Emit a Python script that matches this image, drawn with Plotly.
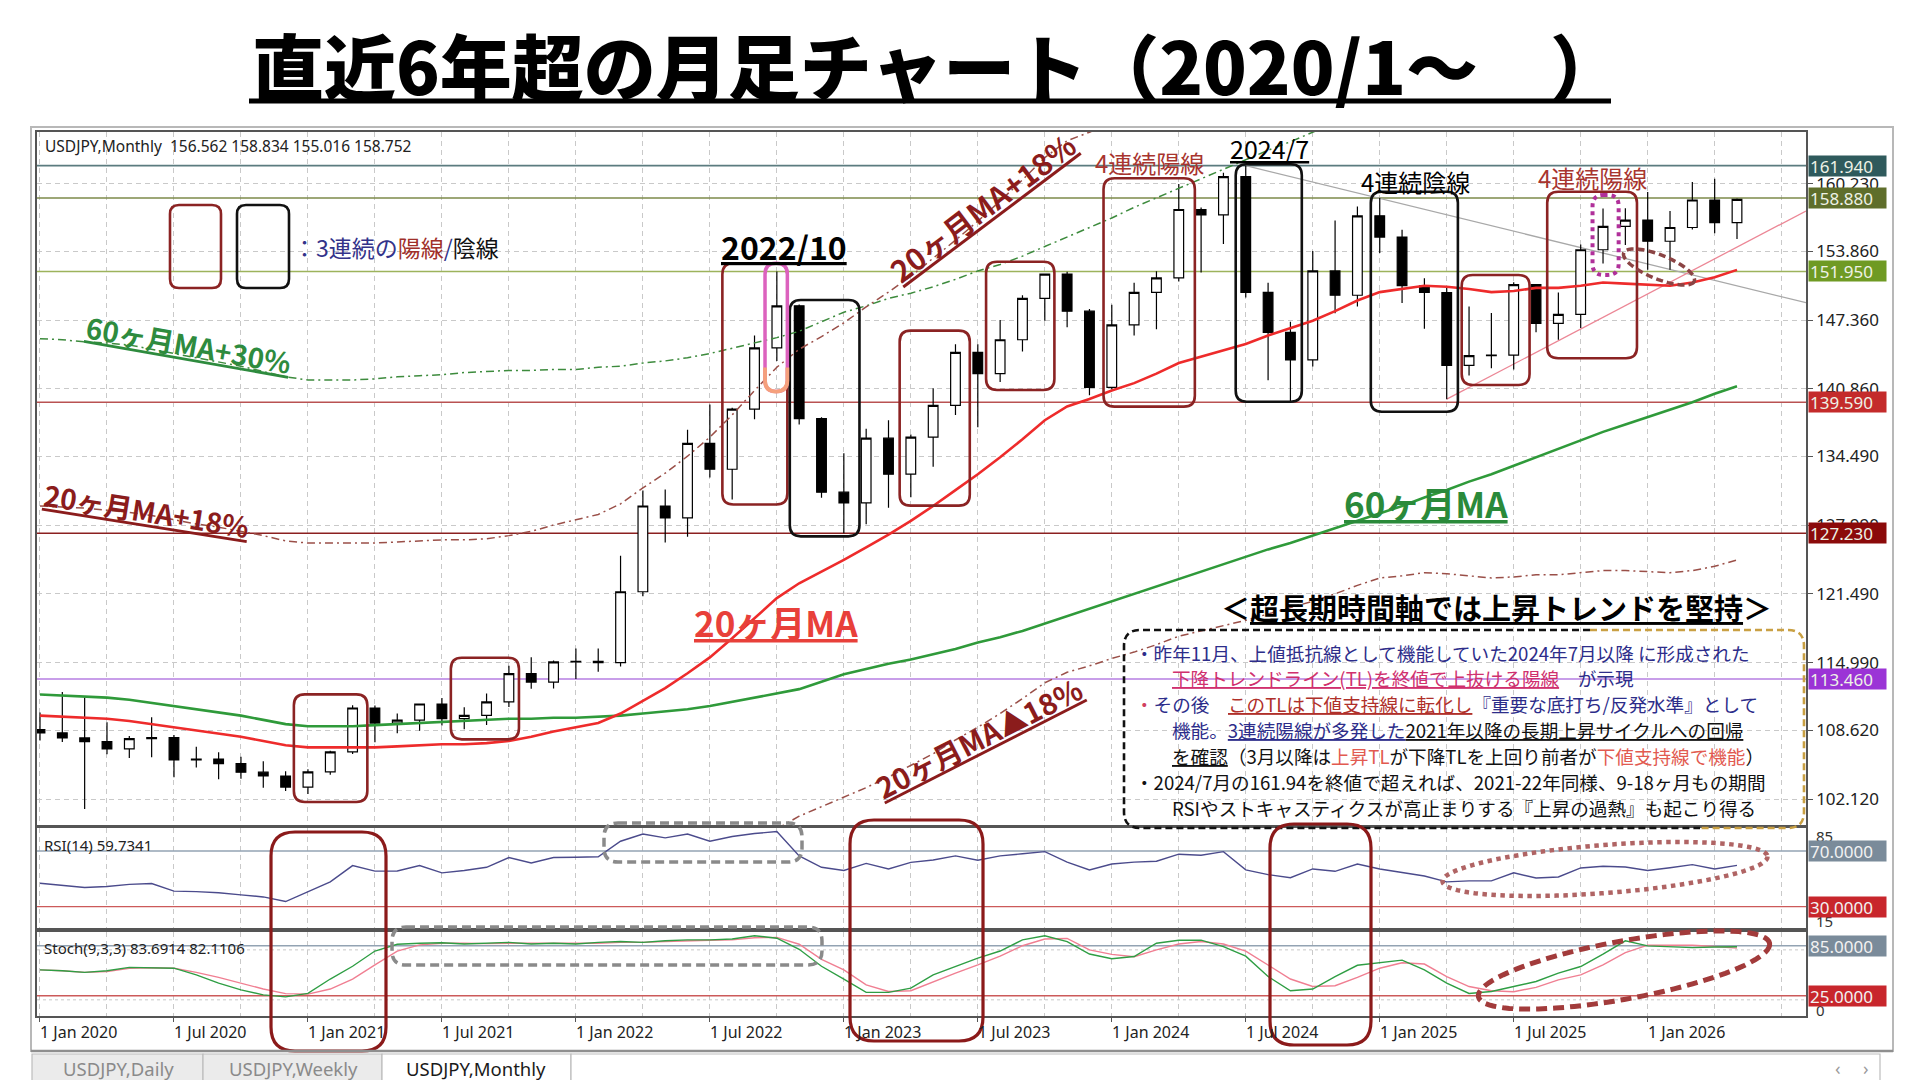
import math
import pandas as pd
import plotly.graph_objects as go

W, H = 1920, 1080
JP = "Noto Sans CJK JP"
LAT = "Noto Sans"

# ---------------- data (monthly USDJPY, Jan 2020 - May 2026) ----------------
months = pd.date_range("2020-01-01", periods=77, freq="MS")

opens = [108.68, 108.37, 107.89, 107.54, 106.86, 107.83, 107.93, 105.83, 105.90, 105.47, 104.66, 104.30,
         103.25, 104.68, 106.58, 110.72, 109.30, 109.58, 111.10, 109.72, 110.03, 111.29, 113.96, 113.17,
         115.08, 115.13, 115.00, 121.70, 129.80, 128.67, 135.72, 133.27, 138.95, 144.74, 148.70, 138.05,
         131.10, 130.10, 136.20, 132.80, 136.30, 139.30, 144.30, 142.30, 145.50, 149.40, 151.70, 148.20,
         141.00, 146.90, 149.97, 151.35, 157.80, 157.30, 160.90, 149.98, 146.20, 143.60, 152.00, 149.70,
         157.20, 155.20, 150.60, 149.96, 143.07, 144.00, 144.05, 150.70, 147.05, 147.90, 154.00, 156.20,
         156.80, 154.80, 156.10, 158.70, 156.562]
highs = [110.29, 112.23, 111.71, 109.38, 108.08, 109.85, 108.16, 107.05, 106.55, 106.11, 105.68, 104.74,
         104.94, 106.69, 110.97, 110.96, 110.20, 111.11, 111.66, 110.80, 112.08, 114.70, 115.52, 115.20,
         116.35, 116.34, 125.10, 131.25, 131.35, 137.00, 139.39, 139.08, 145.90, 151.95, 148.82, 138.18,
         134.77, 137.10, 137.90, 136.56, 140.93, 145.07, 145.07, 147.37, 149.70, 151.72, 151.91, 148.40,
         148.80, 150.88, 151.97, 160.20, 157.99, 161.27, 161.94, 150.88, 147.20, 153.88, 156.75, 158.08,
         158.88, 155.88, 151.30, 150.49, 148.65, 148.03, 150.92, 150.75, 149.96, 154.50, 157.90, 157.92,
         159.45, 157.65, 160.40, 160.70, 158.834]
lows = [107.65, 107.51, 101.19, 106.36, 105.99, 106.07, 104.19, 105.10, 104.00, 104.03, 103.18, 102.88,
        102.59, 104.41, 106.37, 107.48, 108.34, 108.57, 109.06, 108.72, 109.11, 110.82, 112.53, 112.55,
        113.47, 114.15, 114.65, 121.28, 126.36, 126.90, 132.50, 130.40, 138.00, 143.50, 137.50, 130.57,
        127.23, 128.08, 129.64, 130.63, 133.50, 138.40, 137.24, 141.50, 144.40, 147.30, 146.67, 140.25,
        140.80, 145.90, 146.48, 151.00, 151.86, 154.55, 149.50, 141.68, 139.59, 142.97, 148.00, 148.64,
        153.70, 148.96, 146.54, 139.89, 142.12, 142.80, 142.70, 146.20, 145.50, 146.60, 152.70, 154.45,
        152.10, 152.10, 155.90, 155.55, 155.016]
closes = [108.37, 107.89, 107.54, 106.86, 107.83, 107.93, 105.83, 105.90, 105.47, 104.66, 104.30, 103.25,
          104.68, 106.58, 110.72, 109.30, 109.58, 111.10, 109.72, 110.03, 111.29, 113.96, 113.17, 115.08,
          115.13, 115.00, 121.70, 129.80, 128.67, 135.72, 133.27, 138.95, 144.74, 148.70, 138.05, 131.10,
          130.10, 136.20, 132.80, 136.30, 139.30, 144.30, 142.30, 145.50, 149.40, 151.70, 148.20, 141.00,
          146.90, 149.97, 151.35, 157.80, 157.30, 160.90, 149.98, 146.20, 143.60, 152.00, 149.70, 157.20,
          155.20, 150.60, 149.96, 143.07, 144.00, 144.05, 150.70, 147.05, 147.90, 154.00, 156.20, 156.80,
          154.80, 156.10, 158.70, 156.56, 158.752]

ma20 = [110.0, 109.9, 109.8, 109.7, 109.5, 109.2, 108.9, 108.6, 108.3, 108.0, 107.6, 107.2,
        107.0, 107.0, 107.0, 107.0, 107.1, 107.2, 107.3, 107.3, 107.4, 107.6, 108.0, 108.5,
        108.9, 109.3, 110.2, 111.4, 112.6, 114.0, 115.5, 117.3, 119.2, 121.1, 122.5, 123.6,
        124.7, 125.9, 127.1, 128.4, 129.8, 131.3, 132.8, 134.4, 136.1, 137.9, 139.2, 139.9,
        140.7, 141.4, 142.3, 143.3, 143.9, 144.5, 145.1, 145.9, 146.6, 147.3, 148.2, 149.2,
        150.0, 150.3, 150.6, 150.5, 150.3, 150.0, 150.1, 150.4, 150.4, 150.6, 150.9, 150.8,
        150.7, 150.6, 150.9, 151.4, 152.1]
ma60 = [112.0, 111.9, 111.8, 111.7, 111.5, 111.2, 110.9, 110.6, 110.3, 110.0, 109.6, 109.2,
        109.0, 109.0, 109.0, 109.1, 109.2, 109.3, 109.4, 109.5, 109.6, 109.7, 109.7, 109.8,
        109.8, 109.9, 110.0, 110.2, 110.4, 110.6, 110.9, 111.3, 111.7, 112.1, 112.5, 113.2,
        113.9, 114.4, 114.9, 115.3, 115.8, 116.3, 116.9, 117.4, 118.0, 118.7, 119.4, 120.1,
        120.8, 121.5, 122.2, 122.9, 123.6, 124.3, 125.0, 125.7, 126.3, 127.0, 127.7, 128.4,
        129.1, 129.8, 130.6, 131.3, 132.1, 132.8, 133.6, 134.4, 135.2, 136.0, 136.8, 137.5,
        138.2, 138.9, 139.6, 140.4, 141.1]
ma20_up18 = [129.8, 129.7, 129.6, 129.4, 129.2, 128.9, 128.5, 128.1, 127.8, 127.4, 127.0, 126.5,
             126.3, 126.3, 126.3, 126.3, 126.4, 126.5, 126.6, 126.6, 126.7, 127.0, 127.4, 128.0,
             128.5, 129.0, 130.0, 131.5, 132.9, 134.5, 136.3, 138.4, 140.7, 142.9, 144.6, 145.8,
             147.1, 148.6, 150.0, 151.5, 153.2, 154.9, 156.7, 158.6, 160.6, 162.7, 164.3, 165.1,
             166.0] + [None] * 28
ma20_dn18 = [None] * 33 + [99.3, 100.5, 101.4,
             102.3, 103.2, 104.2, 105.3, 106.4, 107.7, 108.9, 110.2, 111.6, 113.1, 114.1, 114.7,
             115.4, 116.0, 116.7, 117.5, 118.0, 118.5, 119.0, 119.6, 120.2, 120.8, 121.5, 122.3,
             123.0, 123.2, 123.5, 123.4, 123.2, 123.0, 123.1, 123.3, 123.3, 123.5, 123.7, 123.7,
             123.6, 123.5, 123.7, 124.1, 124.7]
ma60_up30 = [145.6, 145.5, 145.3, 145.2, 145.0, 144.6, 144.2, 143.8, 143.4, 143.0, 142.5, 142.0,
             141.7, 141.7, 141.7, 141.8, 142.0, 142.1, 142.2, 142.4, 142.5, 142.6, 142.6, 142.7,
             142.7, 142.9, 143.0, 143.3, 143.5, 143.8, 144.2, 144.7, 145.2, 145.7, 146.3, 147.2,
             148.1, 148.7, 149.4, 149.9, 150.5, 151.2, 152.0, 152.6, 153.4, 154.3, 155.2, 156.1,
             157.0, 158.0, 158.9, 159.8, 160.7, 161.6, 162.5, 163.4, 164.2, 165.1, 166.0] + [None] * 18

rsi14 = [46.8, 45.3, 43.8, 44.5, 46.0, 46.6, 41.2, 40.8, 40.0, 38.5, 37.0, 33.7,
         40.5, 47.8, 59.5, 55.5, 55.6, 59.5, 54.3, 56.0, 58.3, 65.3, 61.4, 65.3,
         65.5, 65.8, 77.0, 82.2, 79.4, 82.2, 77.0, 80.4, 82.5, 84.0, 66.5, 58.3,
         56.0, 61.1, 57.1, 61.8, 63.5, 66.5, 63.4, 66.5, 68.0, 69.5, 62.0, 56.4,
         60.6, 62.0, 62.6, 67.7, 66.9, 69.5, 56.4, 53.0, 50.8, 57.1, 55.4, 60.6,
         57.1, 54.3, 52.0, 47.8, 48.5, 48.5, 54.3, 50.6, 51.3, 57.8, 59.0, 58.5,
         56.0, 58.0, 60.2, 57.1, 59.7]
stoch_k = [56, 55, 53, 55, 59, 58.5, 58, 50, 40, 32, 26, 23.6,
           27.7, 45, 60.3, 78.6, 86.8, 88, 88.5, 87, 88, 89, 87, 88,
           87, 89, 90, 89, 91, 92, 92, 93, 97, 94, 80.7, 60.3,
           45, 29, 29, 34, 50, 60.3, 70, 78.6, 92, 97, 90, 75,
           69.3, 72, 88, 91.5, 91.7, 84, 72.5, 48, 30.9, 33, 48, 61.5,
           65, 67.7, 56, 40, 27.7, 30, 36, 42, 52, 60, 75, 90.9,
           84.8, 83.5, 82.7, 83.5, 83.7]
stoch_d = [56, 55, 53, 54, 58, 58.5, 58, 53, 47, 40, 33, 27.5,
           26.9, 33, 45, 62, 78.6, 86, 88, 88, 87.5, 88, 88, 87.5,
           88, 88, 89, 89, 90, 91, 91.5, 92, 94.5, 95, 86.8, 68.5,
           56, 38, 30, 31, 42, 52.2, 62, 72.5, 85, 93, 93.7, 80,
           74.6, 71.7, 80, 87, 90, 87, 78.6, 62, 45, 36, 37, 47,
           58, 64.5, 63, 48, 36, 31, 29.7, 35, 44, 50, 62, 76.6,
           85.6, 85.5, 85.6, 84, 82.1]

price_ticks = [160.230, 153.860, 147.360, 140.860, 134.490, 127.990, 121.490, 114.990, 108.620, 102.120]
level_values = [161.940, 158.880, 151.950, 139.590, 127.230, 113.460]
level_line_colors = ["#5b7b7f", "#7d8a4a", "#9db35c", "#b95252", "#8b2020", "#b67ee2"]
level_box_colors = ["#2f5a5c", "#5f6e2b", "#6f9a23", "#c42b2b", "#8b0a0a", "#9b34d6"]

xi = list(range(len(months)))
xtick_idx = [i for i, m in enumerate(months) if m.month in (1, 7)]
xtick_text = [f"1 {months[i].strftime('%b')} {months[i].year}" for i in xtick_idx]

# ---------------- geometry ----------------
XR = [-0.134, 79.09]
YR_MAIN = [99.67, 165.12]
YR_RSI = [14.9, 86.5]
YR_STO = [0.6, 101.1]
SX = 22.33    # px per month
SY = 10.587   # px per yen
DOMX = [37 / W, 1806 / W]

fig = go.Figure()

fig.add_trace(go.Candlestick(
    x=xi, open=opens, high=highs, low=lows, close=closes,
    increasing=dict(line=dict(color="#000", width=1.2), fillcolor="#fff"),
    decreasing=dict(line=dict(color="#000", width=1.2), fillcolor="#000"),
    whiskerwidth=0, xaxis="x", yaxis="y", showlegend=False, hoverinfo="skip"))

def line_trace(y, color, width, dash=None, xa="x", ya="y"):
    return go.Scatter(x=xi, y=y, mode="lines", xaxis=xa, yaxis=ya, showlegend=False,
                      hoverinfo="skip", line=dict(color=color, width=width, dash=dash))

fig.add_trace(line_trace(ma60_up30, "#3d8b3d", 1.5, "8px,4px,2px,4px"))
fig.add_trace(line_trace(ma20_up18, "#9a4f48", 1.5, "8px,4px,2px,4px"))
fig.add_trace(line_trace(ma20_dn18, "#9a4f48", 1.5, "8px,4px,2px,4px"))
fig.add_trace(line_trace(ma60, "#2f9a3a", 2.6))
fig.add_trace(line_trace(ma20, "#ee2b2b", 2.6))
fig.add_trace(line_trace(rsi14, "#4b4b8c", 1.4, None, "x2", "y2"))
fig.add_trace(line_trace(stoch_d, "#f07f92", 1.4, None, "x3", "y3"))
fig.add_trace(line_trace(stoch_k, "#2f9e44", 1.4, None, "x3", "y3"))

# ---------------- shapes ----------------
shapes = []

def P(x, y):
    return f"{x / W:.5f},{1 - y / H:.5f}"

def rr_px(x0, y0, x1, y1, r):
    return (f"M{P(x0 + r, y0)} L{P(x1 - r, y0)} Q{P(x1, y0)} {P(x1, y0 + r)} L{P(x1, y1 - r)} "
            f"Q{P(x1, y1)} {P(x1 - r, y1)} L{P(x0 + r, y1)} Q{P(x0, y1)} {P(x0, y1 - r)} "
            f"L{P(x0, y0 + r)} Q{P(x0, y0)} {P(x0 + r, y0)} Z")

def rr_data(x0, x1, y0, y1, r=11):
    rx, ry = r / SX, r / SY
    return (f"M{x0 + rx},{y1} L{x1 - rx},{y1} Q{x1},{y1} {x1},{y1 - ry} L{x1},{y0 + ry} "
            f"Q{x1},{y0} {x1 - rx},{y0} L{x0 + rx},{y0} Q{x0},{y0} {x0},{y0 + ry} "
            f"L{x0},{y1 - ry} Q{x0},{y1} {x0 + rx},{y1} Z")

def ellipse_px(cx, cy, a, b, ang, n=90):
    t = math.radians(ang)
    pts = []
    for k in range(n + 1):
        th = 2 * math.pi * k / n
        ex, ey = a * math.cos(th), b * math.sin(th)
        pts.append(P(cx + ex * math.cos(t) - ey * math.sin(t), cy + ex * math.sin(t) + ey * math.cos(t)))
    return "M" + " L".join(pts) + " Z"

def pshape(path, color, width, dash=None, xref="paper", yref="paper", layer="above"):
    return dict(type="path", path=path, xref=xref, yref=yref, layer=layer,
                line=dict(color=color, width=width, dash=dash))

# horizontal level lines
for v, c in zip(level_values, level_line_colors):
    shapes.append(dict(type="line", xref="x", yref="y", x0=XR[0], x1=XR[1], y0=v, y1=v,
                       layer="between", line=dict(color=c, width=1.6)))
# trend lines
shapes.append(dict(type="line", xref="x", yref="y", x0=54, y0=highs[54], x1=XR[1], y1=149.0,
                   layer="between", line=dict(color="#a8a8a8", width=1.3)))
shapes.append(dict(type="line", xref="x", yref="y", x0=63, y0=lows[63], x1=XR[1], y1=157.66,
                   layer="between", line=dict(color="#ec8796", width=1.3)))
# indicator levels
shapes += [
    dict(type="line", xref="x2", yref="y2", x0=XR[0], x1=XR[1], y0=70, y1=70, layer="between", line=dict(color="#93a3b3", width=1.4)),
    dict(type="line", xref="x2", yref="y2", x0=XR[0], x1=XR[1], y0=30, y1=30, layer="between", line=dict(color="#cc5a5a", width=1.4)),
    dict(type="line", xref="x3", yref="y3", x0=XR[0], x1=XR[1], y0=85, y1=85, layer="between", line=dict(color="#93a3b3", width=1.4)),
    dict(type="line", xref="x3", yref="y3", x0=XR[0], x1=XR[1], y0=25, y1=25, layer="between", line=dict(color="#cc5a5a", width=1.4)),
    dict(type="line", xref="x3", yref="y3", x0=XR[0], x1=XR[1], y0=80, y1=80, layer="between", line=dict(color="#c8c8c8", width=1, dash="dot")),
    dict(type="line", xref="x3", yref="y3", x0=XR[0], x1=XR[1], y0=20, y1=20, layer="between", line=dict(color="#c8c8c8", width=1, dash="dot")),
]

# candle group boxes (x: month index, y: price)
RED, BLK = "#8b2323", "#111111"
boxes = [
    (11.37, 14.66, 101.84, 112.01, RED), (18.40, 21.45, 107.76, 115.47, RED),
    (30.56, 33.47, 129.94, 152.72, RED), (33.58, 36.70, 126.93, 149.25, BLK),
    (38.50, 41.64, 129.83, 146.36, RED), (42.37, 45.43, 140.76, 152.87, RED),
    (47.63, 51.72, 139.18, 160.75, RED), (53.55, 56.51, 139.65, 162.07, BLK),
    (59.60, 63.50, 138.70, 159.48, BLK), (63.67, 66.71, 141.23, 151.62, RED),
    (67.50, 71.52, 143.75, 159.48, RED),
]
for x0, x1, y0, y1, c in boxes:
    shapes.append(pshape(rr_data(x0, x1, y0, y1, 11), c, 2.6, xref="x", yref="y"))
# 2022/10 highlighted candle (pink -> orange)
shapes.append(pshape(rr_data(32.47, 33.47, 140.6, 152.72, 11), "#dc62be", 3.5, xref="x", yref="y"))
rx, ry = 11 / SX, 11 / SY
shapes.append(pshape(f"M32.47,{140.6 + 2.2 * ry} L32.47,{140.6 + ry} Q32.47,140.6 {32.47 + rx},140.6 "
                     f"Q33.47,140.6 33.47,{140.6 + ry} L33.47,{140.6 + 2.2 * ry}",
                     "#f5a07c", 3.8, xref="x", yref="y"))
# Nov 2025 dotted box
shapes.append(pshape(rr_data(69.53, 70.70, 151.62, 159.17, 11), "#b0309a", 4, "dot", xref="x", yref="y"))
# small dashed ellipse near TL cross
shapes.append(pshape(ellipse_px(1659, 267, 38, 12, 22), "#8b4444", 3.5, "7px,4px"))

# legend boxes
shapes.append(pshape(rr_px(170, 205, 221, 288, 9), RED, 2.6))
shapes.append(pshape(rr_px(237, 205, 289, 288, 9), BLK, 2.6))

# text box border (black left part / gold right part)
bx0, by0, bx1, by1, br = 1124, 630, 1804, 828, 16
shapes.append(pshape(f"M{P(1590, by0)} L{P(bx0 + br, by0)} Q{P(bx0, by0)} {P(bx0, by0 + br)} "
                     f"L{P(bx0, by1 - br)} Q{P(bx0, by1)} {P(bx0 + br, by1)} L{P(1700, by1)}",
                     "#111", 2.6, "7px,4px"))
shapes.append(pshape(f"M{P(1590, by0)} L{P(bx1 - br, by0)} Q{P(bx1, by0)} {P(bx1, by0 + br)} "
                     f"L{P(bx1, by1 - br)} Q{P(bx1, by1)} {P(bx1 - br, by1)} L{P(1700, by1)}",
                     "#c9a043", 2.6, "7px,4px"))

# indicator-panel highlights
shapes.append(pshape(rr_px(604, 823, 802, 862, 14), "#8a8a8a", 3.5, "9px,5px"))
shapes.append(pshape(rr_px(392, 927, 822, 965, 14), "#8a8a8a", 3.5, "9px,5px"))
shapes.append(pshape(rr_px(271, 832, 386, 1051, 24), "#8b1a1a", 3.2))
shapes.append(pshape(rr_px(850, 820, 983, 1041, 24), "#8b1a1a", 3.2))
shapes.append(pshape(rr_px(1270, 824, 1371, 1045, 24), "#8b1a1a", 3.2))
shapes.append(pshape(ellipse_px(1605, 869, 163, 24, -4.4), "#b06464", 4.5, "dot"))
shapes.append(pshape(ellipse_px(1624, 970, 148, 29, -10.4), "#a23b3b", 5, "11px,6px"))

# title underline
shapes.append(dict(type="line", xref="paper", yref="paper", x0=249 / W, x1=1611 / W,
                   y0=1 - 101 / H, y1=1 - 101 / H, line=dict(color="#000", width=5)))
# outer window frame and tab bar
shapes.append(dict(type="rect", xref="paper", yref="paper", x0=31 / W, x1=1893 / W, y0=1 - 1051 / H,
                   y1=1 - 127 / H, line=dict(color="#b8b8b8", width=2)))
shapes.append(dict(type="line", xref="paper", yref="paper", x0=31 / W, x1=1893 / W, y0=1 - 1051 / H,
                   y1=1 - 1051 / H, line=dict(color="#8f8f8f", width=2.5)))
for tx0, tx1, fill in [(32, 203, "#ebebeb"), (203, 382, "#ebebeb"), (382, 571, "#ffffff"), (571, 1880, "#ffffff")]:
    shapes.append(dict(type="rect", xref="paper", yref="paper", x0=tx0 / W, x1=tx1 / W,
                       y0=-0.01, y1=1 - 1054 / H, fillcolor=fill, line=dict(color="#bdbdbd", width=1.2)))

# ---------------- annotations ----------------
anns = []

def A(x, y, text, size, color="#000", xanchor="left", yanchor="middle", angle=0,
      weight=None, family=JP, under=False):
    f = dict(size=size, color=color, family=family)
    if weight:
        f["weight"] = weight
    if under:
        f["lineposition"] = "under"
    anns.append(dict(x=x / W, y=1 - y / H, xref="paper", yref="paper", text=text, showarrow=False,
                     xanchor=xanchor, yanchor=yanchor, textangle=angle, font=f))

A(250, 64, "直近6年超の月足チャート（2020/1～　）", 72, weight=900)
A(43, 146, "USDJPY,Monthly  156.562 158.834 155.016 158.752", 15.5, "#222", family=LAT)
A(42, 845, "RSI(14) 59.7341", 15, "#222", family=LAT)
A(42, 948, "Stoch(9,3,3) 83.6914 82.1106", 15, "#222", family=LAT)

A(291, 247, '<span style="color:#33338a">：3連続の</span><span style="color:#a0302a">陽線</span>'
            '<span style="color:#33338a">/</span><span style="color:#111">陰線</span>', 23)
A(188, 344, "60ヶ月MA+30%", 28, "#2e8b3e", "center", angle=10, weight="bold", under=True)
A(146, 510, "20ヶ月MA+18%", 28, "#8b1c1c", "center", angle=9, weight="bold", under=True)
A(784, 246, "2022/10", 32, "#000", "center", weight="bold", under=True)
A(982, 207, "20ヶ月MA+18%", 30, "#8b1c1c", "center", angle=-37, weight="bold", under=True)
A(1149, 163, "4連続陽線", 24, "#a8352f", "center")
A(1269, 148, "2024/7", 25, "#000", "center", under=True)
A(1415, 181, "4連続陰線", 24, "#000", "center")
A(1592, 178, "4連続陽線", 24, "#a8352f", "center")
A(776, 621, "20ヶ月MA", 35, "#e8403a", "center", weight="bold", under=True)
A(1426, 502, "60ヶ月MA", 35, "#2a8a3a", "center", weight="bold", under=True)
A(978, 737, "20ヶ月MA▲18%", 29, "#8b1c1c", "center", angle=-27, weight="bold", under=True)

A(1496, 607, '＜<span style="text-decoration:underline">超長期時間軸では上昇トレンドを堅持</span>＞',
  29, "#000", "center", weight="bold")
NV, MG, BR, SA, BK = "#2d2d8a", "#d0306e", "#b0302a", "#e25a50", "#111111"
U = '<span style="text-decoration:underline">'
TS = 18.6
A(1133, 652, f'<span style="color:{NV}">・昨年11月、上値抵抗線として機能していた2024年7月以降 に形成された</span>', TS)
A(1170, 677, f'<span style="color:{MG}">{U}下降トレンドライン(TL)を終値で上抜ける陽線</span></span>'
             f'<span style="color:{NV}">　が示現</span>', TS)
A(1133, 703, f'<span style="color:#d04060">・</span><span style="color:{NV}">その後　</span>'
             f'<span style="color:{BR}">{U}このTLは下値支持線に転化し</span></span>'
             f'<span style="color:{NV}">『重要な底打ち/反発水準』として</span>', TS)
A(1170, 729, f'<span style="color:{NV}">機能。{U}3連続陽線が多発した</span></span>'
             f'<span style="color:{BK}">{U}2021年以降の長期上昇サイクルへの回帰</span></span>', TS)
A(1170, 755, f'<span style="color:{BK}">{U}を確認</span>（3月以降は</span><span style="color:{SA}">上昇TL</span>'
             f'<span style="color:{BK}">が下降TLを上回り前者が</span><span style="color:{SA}">下値支持線で機能</span>'
             f'<span style="color:{BK}">）</span>', TS)
A(1133, 781, f'<span style="color:{BK}">・2024/7月の161.94を終値で超えれば、2021-22年同様、9-18ヶ月もの期間</span>', TS)
A(1170, 807, f'<span style="color:{BK}">RSIやストキャスティクスが高止まりする『上昇の過熱』も起こり得る</span>', TS)

# small edge labels of indicator scales
A(1814, 836, "85", 15, "#333", family=LAT)
A(1814, 921, "15", 15, "#333", family=LAT)
A(1814, 1010, "0", 15, "#333", family=LAT)

# value boxes on the price scale
for v, c in zip(level_values, level_box_colors):
    anns.append(dict(x=1808 / W, y=v, xref="paper", yref="y", text=f"{v:.3f}", showarrow=False,
                     xanchor="left", yanchor="middle", align="left", width=75, height=18, borderpad=1,
                     bgcolor=c, font=dict(size=17, color="#eef2e6", family=LAT)))
for v, c, ya in [(70, "#7a8b9a", "y2"), (30, "#c8262c", "y2"), (85, "#7a8b9a", "y3"), (25, "#c8262c", "y3")]:
    anns.append(dict(x=1808 / W, y=v, xref="paper", yref=ya, text=f"{v:.4f}", showarrow=False,
                     xanchor="left", yanchor="middle", align="left", width=75, height=18, borderpad=1,
                     bgcolor=c, font=dict(size=17, color="#f2f2f2", family=LAT)))

# time-axis labels (left aligned like MT4)
for i, t in zip(xtick_idx, xtick_text):
    anns.append(dict(x=i, y=1 - 1032 / H, xref="x3", yref="paper", text=t, showarrow=False,
                     xanchor="left", yanchor="middle", xshift=-2, font=dict(size=16, color="#222", family=LAT)))

# tabs
A(118, 1068, "USDJPY,Daily", 18.5, "#8a8a8a", "center", family=LAT)
A(293, 1068, "USDJPY,Weekly", 18.5, "#8a8a8a", "center", family=LAT)
A(476, 1068, "USDJPY,Monthly", 18.5, "#1a1a1a", "center", family=LAT)
A(1838, 1068, "‹", 18, "#9a9a9a", "center", family=LAT)
A(1866, 1068, "›", 18, "#9a9a9a", "center", family=LAT)

# ---------------- axes ----------------
grid_style = dict(showgrid=True, gridcolor="#c9c9c9", gridwidth=1, griddash="5px,4px")
frame = dict(showline=True, linecolor="#555", linewidth=1.5, mirror=True, zeroline=False, fixedrange=True)
grid_x = list(range(0, 80, 3))

xcommon = dict(range=XR, domain=DOMX, tickvals=grid_x, showticklabels=False, ticks="", **grid_style, **frame)
fig.update_layout(
    xaxis=dict(anchor="y", rangeslider=dict(visible=False), **xcommon),
    xaxis2=dict(anchor="y2", **xcommon),
    xaxis3=dict(anchor="y3", range=XR, domain=DOMX, tickvals=xtick_idx, showticklabels=False,
                ticks="outside", ticklen=4, tickcolor="#555",
                minor=dict(tickvals=[v for v in grid_x if v not in xtick_idx], showgrid=True,
                           gridcolor="#c9c9c9", griddash="5px,4px", ticks=""),
                **grid_style, **frame),
    yaxis=dict(anchor="x", domain=[1 - 825 / H, 1 - 132 / H], range=YR_MAIN, side="right",
               tickvals=price_ticks, ticktext=[f"{v:.3f}" for v in price_ticks],
               ticks="outside", ticklen=5, tickcolor="#555",
               tickfont=dict(size=17, color="#222", family=LAT), **grid_style, **frame),
    yaxis2=dict(anchor="x2", domain=[1 - 927.7 / H, 1 - 828 / H], range=YR_RSI, showticklabels=False,
                showgrid=False, side="right", **frame),
    yaxis3=dict(anchor="x3", domain=[1 - 1016 / H, 1 - 932.3 / H], range=YR_STO, showticklabels=False,
                showgrid=False, side="right", **frame),
    shapes=shapes, annotations=anns,
    width=W, height=H, margin=dict(l=0, r=0, t=0, b=0),
    paper_bgcolor="#ffffff", plot_bgcolor="#ffffff", showlegend=False,
    boxgap=0.38, font=dict(family=JP), hovermode=False,
)

fig.write_html("out.html", config={"displayModeBar": False},
               post_script="document.body.style.margin='0';document.body.style.overflow='hidden';")
